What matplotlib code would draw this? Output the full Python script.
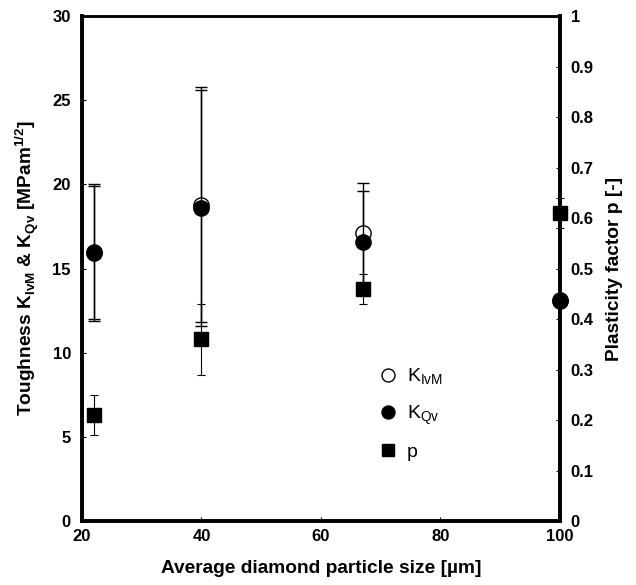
import matplotlib.pyplot as plt

plt.rcParams['font.family'] = ['Liberation Sans', 'DejaVu Sans']

# data
size_um = [22, 40, 67, 100]
k_ivm = [16.0, 18.8, 17.1, 13.1]
k_ivm_err = [4.0, 7.0, 3.0, 0.0]
k_qv = [15.9, 18.6, 16.6, 13.05]
k_qv_err = [4.0, 7.0, 3.0, 0.0]
p_factor = [0.21, 0.36, 0.46, 0.61]
p_err = [0.04, 0.07, 0.03, 0.03]

fig = plt.figure(figsize=(6.36, 5.85), dpi=100)
ax = fig.add_axes([0.129, 0.1094, 0.751, 0.8632])
ax2 = ax.twinx()

# open circles first so the filled ones sit on top
ax.errorbar(size_um, k_ivm, yerr=k_ivm_err, fmt='o', ms=11, mfc='white', mec='black',
            mew=1.0, ecolor='black', elinewidth=1.0, capsize=4, capthick=1.0,
            clip_on=False, zorder=3, label=r'K$_{\mathregular{IvM}}$')
ax.errorbar(size_um, k_qv, yerr=k_qv_err, fmt='o', ms=11, mfc='black', mec='black',
            ecolor='black', elinewidth=1.0, capsize=4, capthick=1.0,
            clip_on=False, zorder=4, label=r'K$_{\mathregular{Qv}}$')
ax2.errorbar(size_um, p_factor, yerr=p_err, fmt='s', ms=10, mfc='black', mec='black',
             ecolor='black', elinewidth=0.8, capsize=3, capthick=0.8,
             clip_on=False, zorder=4, label='p')

ax.set_xlim(20, 100)
ax.set_ylim(0, 30)
ax2.set_ylim(0, 1)
ax.set_xticks([20, 40, 60, 80, 100])
ax.set_yticks([0, 5, 10, 15, 20, 25, 30])
ax2.set_yticks([0, 0.1, 0.2, 0.3, 0.4, 0.5, 0.6, 0.7, 0.8, 0.9, 1])
ax2.set_yticklabels(['0', '0.1', '0.2', '0.3', '0.4', '0.5', '0.6', '0.7', '0.8', '0.9', '1'])

for a in (ax, ax2):
    a.tick_params(direction='in', length=3, width=0.8, labelsize=12, pad=8)
    for lab in a.get_xticklabels() + a.get_yticklabels():
        lab.set_fontweight('bold')
    for side in ('left', 'bottom', 'right'):
        a.spines[side].set_linewidth(2.6)
    a.spines['top'].set_linewidth(1.8)
ax.tick_params(axis='x', pad=6)

ax.set_xlabel('Average diamond particle size [µm]', fontsize=13.8, fontweight='bold', labelpad=11)
ax.set_ylabel(r'Toughness K$_{\mathregular{IvM}}$ & K$_{\mathregular{Qv}}$ [MPam$^{\mathregular{1/2}}$]',
              fontsize=13.8, fontweight='bold', labelpad=8)
ax2.set_ylabel('Plasticity factor p [-]', fontsize=13.8, fontweight='bold', labelpad=9)

h1, l1 = ax.get_legend_handles_labels()
h2, l2 = ax2.get_legend_handles_labels()
handles = [h[0] for h in h1 + h2]
leg = ax2.legend(handles, l1 + l2, loc='upper left', bbox_to_anchor=(0.582, 0.34),
                 frameon=False, fontsize=14, handletextpad=0.4, labelspacing=0.85,
                 markerscale=0.85, handlelength=1.1)

fig.savefig('out.png', dpi=100)
